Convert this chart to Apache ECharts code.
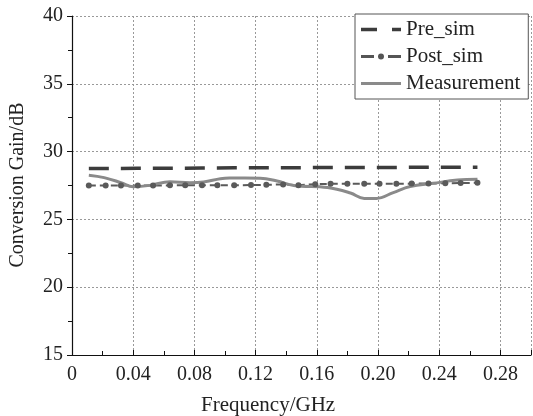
<!DOCTYPE html>
<html>
<head>
<meta charset="utf-8">
<script src="https://cdn.jsdelivr.net/npm/echarts@6/dist/echarts.min.js"></script>
<style>
  html, body { margin: 0; padding: 0; background: #fff; }
  #chart { width: 533px; height: 416px; }
</style>
</head>
<body>
<div id="chart"></div>
<script>
// frequency points of the simulations (GHz)
const simFreq = [0.011, 0.022, 0.032, 0.043, 0.053, 0.064, 0.074, 0.085, 0.095, 0.106,
  0.117, 0.127, 0.138, 0.148, 0.159, 0.169, 0.180, 0.191, 0.201, 0.212,
  0.222, 0.233, 0.244, 0.254, 0.265]
const preSim = [28.75, 28.76, 28.76, 28.77, 28.77, 28.78, 28.78, 28.79, 28.79, 28.8,
  28.8, 28.8, 28.81, 28.81, 28.82, 28.82, 28.82, 28.83, 28.83, 28.83,
  28.84, 28.84, 28.85, 28.85, 28.85]
const postSim = [27.5, 27.5, 27.5, 27.5, 27.5, 27.51, 27.51, 27.51, 27.52, 27.52,
  27.53, 27.55, 27.58, 27.52, 27.6, 27.62, 27.62, 27.62, 27.63, 27.63,
  27.64, 27.65, 27.66, 27.68, 27.7]
// measured curve
const measFreq = [0.011, 0.021, 0.032, 0.040, 0.051, 0.064, 0.077, 0.086, 0.097, 0.103,
  0.123, 0.134, 0.145, 0.167, 0.182, 0.191, 0.199, 0.210, 0.221, 0.236, 0.252, 0.265]
const measured = [28.26, 28.08, 27.71, 27.41, 27.51, 27.78, 27.71, 27.76, 28.0, 28.05,
  28.04, 27.83, 27.5, 27.35, 26.95, 26.55, 26.55, 26.98, 27.42, 27.66, 27.9, 27.96]
const xTicks = [0, 0.04, 0.08, 0.12, 0.16, 0.20, 0.24, 0.28]

const pairs = (xs, ys) => xs.map((x, i) => [x, ys[i]])
const font = 'Liberation Serif'

// legend glyphs drawn as small paths (40 wide, 6 high)
const iconPre = 'path://M0,1.2h16v3.6h-16z M31,1.2h9v3.6h-9z'
const iconPost = 'path://M0,1.6h13v2.8h-13z M27,1.6h13v2.8h-13z M17,3a3,3 0 1,0 6,0a3,3 0 1,0 -6,0z'
const iconMeas = 'path://M0,1.4h40v3.2h-40z'

const chart = echarts.init(document.getElementById('chart'))
chart.setOption({
  animation: false,
  backgroundColor: '#fff',
  textStyle: {fontFamily: font},
  grid: {left: 72, top: 16, right: 2, bottom: 61},
  legend: {
    left: 355, top: 14, width: 172,
    orient: 'vertical',
    padding: [5, 8, 5, 6],
    itemGap: 6,
    itemWidth: 40, itemHeight: 6,
    borderColor: '#555', borderWidth: 1,
    backgroundColor: '#fff',
    textStyle: {fontFamily: font, fontSize: 21, lineHeight: 20, color: '#222'},
    data: [
      {name: 'Pre_sim', icon: iconPre, itemStyle: {color: '#3c3c3c'}},
      {name: 'Post_sim', icon: iconPost, itemStyle: {color: '#555'}},
      {name: 'Measurement', icon: iconMeas, itemStyle: {color: '#8a8a8a'}}
    ]
  },
  xAxis: {
    type: 'value', min: 0, max: 0.30, interval: 0.04,
    axisLine: {lineStyle: {color: '#111', width: 1.2}},
    axisTick: {show: true, inside: true, length: 5, lineStyle: {color: '#111'}},
    minorTick: {show: true, splitNumber: 2, length: 4, lineStyle: {color: '#111'}},
    splitLine: {show: true, lineStyle: {color: '#999', type: [2, 2], width: 1}},
    axisLabel: {
      fontFamily: font, fontSize: 20, color: '#222', margin: 10, showMaxLabel: false,
      formatter: v => {
        const t = xTicks.find(k => Math.abs(k - v) < 1e-6)
        return t === undefined ? '' : (t === 0 ? '0' : t.toFixed(2))
      }
    }
  },
  yAxis: {
    type: 'value', min: 15, max: 40, interval: 5,
    axisLine: {show: true, lineStyle: {color: '#111', width: 1.2}},
    axisTick: {show: true, length: 5, lineStyle: {color: '#111'}},
    minorTick: {show: true, splitNumber: 2, length: 4, lineStyle: {color: '#111'}},
    splitLine: {show: true, lineStyle: {color: '#999', type: [2, 2], width: 1}},
    axisLabel: {fontFamily: font, fontSize: 20, color: '#222', margin: 9}
  },
  graphic: [
    {type: 'text', left: 201, top: 395,
      style: {text: 'Frequency/GHz', font: '21px "Liberation Serif"', fill: '#222'}},
    {type: 'text', x: 8, y: 185, rotation: Math.PI / 2,
      style: {text: 'Conversion Gain/dB', font: '20px "Liberation Serif"', fill: '#222',
        align: 'center', verticalAlign: 'top'}}
  ],
  series: [
    {
      name: 'Pre_sim', type: 'line', data: pairs(simFreq, preSim),
      showSymbol: false, symbol: 'none',
      itemStyle: {color: '#3c3c3c'},
      lineStyle: {color: '#3c3c3c', width: 3.5, type: [20, 12]}
    },
    {
      name: 'Post_sim', type: 'line', data: pairs(simFreq, postSim),
      symbol: 'circle', symbolSize: 6,
      itemStyle: {color: '#5a5a5a'},
      lineStyle: {color: '#5a5a5a', width: 2, type: [7, 4]}
    },
    {
      name: 'Measurement', type: 'line', data: pairs(measFreq, measured),
      showSymbol: false, symbol: 'none', smooth: 0.4,
      itemStyle: {color: '#8a8a8a'},
      lineStyle: {color: '#8a8a8a', width: 3}
    }
  ]
})
</script>
</body>
</html>
